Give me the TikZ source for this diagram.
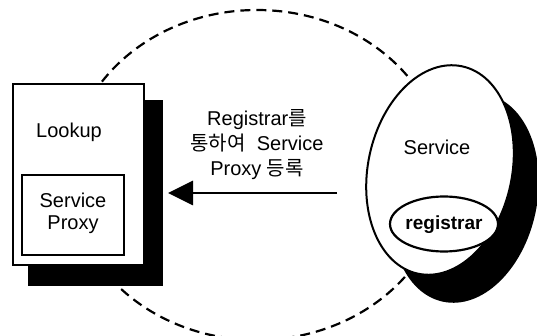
\documentclass[tikz,border=0pt]{standalone}
\usepackage{fontspec}
\setmainfont{Liberation Sans}
\newfontfamily\kr{Noto Sans CJK KR}
\usetikzlibrary{arrows.meta,shapes.geometric}
\begin{document}
\begin{tikzpicture}[x=1pt,y=-1pt,
  txt/.style={font=\fontsize{20}{23}\selectfont, inner sep=0pt, align=center},
  shadowbox/.style={fill=black, inner sep=0pt, anchor=north west},
  whitebox/.style={draw=black, fill=white, inner sep=0pt, anchor=north west},
  egg/.style={ellipse, inner sep=0pt, minimum width=144pt, minimum height=212pt, rotate=-12}
]
\useasboundingbox (0,0) rectangle (537,336);
\clip (0,0) rectangle (537,336);
% dashed boundary
\draw[line width=2.2pt, dash pattern=on 10pt off 6pt] (257,175) ellipse [x radius=188, y radius=165];
% Lookup
\node[shadowbox, minimum width=135pt, minimum height=186pt] (lshadow) at (28,100) {};
\node[whitebox, line width=2pt, minimum width=131pt, minimum height=181pt] (lookup) at (12,83) {};
\node[txt] (ltext) at (69,132) {Lookup};
\node[draw=black, fill=white, line width=2.6pt, inner sep=0pt, minimum width=102pt, minimum height=80pt] (proxy) at (73,215) {};
\node[txt, font=\fontsize{20}{22}\selectfont] (ptext) at (73,213) {Service\\Proxy};
% Service
\node[egg, fill=black] (sshadow) at (465,198) {};
\node[egg, draw=black, fill=white, line width=2pt] (svc) at (440,170) {};
\node[txt] (stext) at (437,147) {Service};
\node[ellipse, draw=black, fill=white, line width=2.2pt, inner sep=0pt, minimum width=108pt, minimum height=55pt] (reg) at (444,224) {};
\node[txt, font=\fontsize{19}{21}\bfseries\selectfont] (rtext) at (444,225) {registrar};
% arrow
\coordinate (astart) at (337,193);
\coordinate (aend) at (168,193);
\draw[line width=2.8pt, -{Triangle[length=25pt,width=24pt]}] (astart) -- (aend);
\node[txt, font=\fontsize{20}{25}\selectfont] (label) at (257,145) {Registrar{\kr 를}\\{\kr 통하여}\ \ Service\\Proxy\ {\kr 등록}};
\end{tikzpicture}
\end{document}
